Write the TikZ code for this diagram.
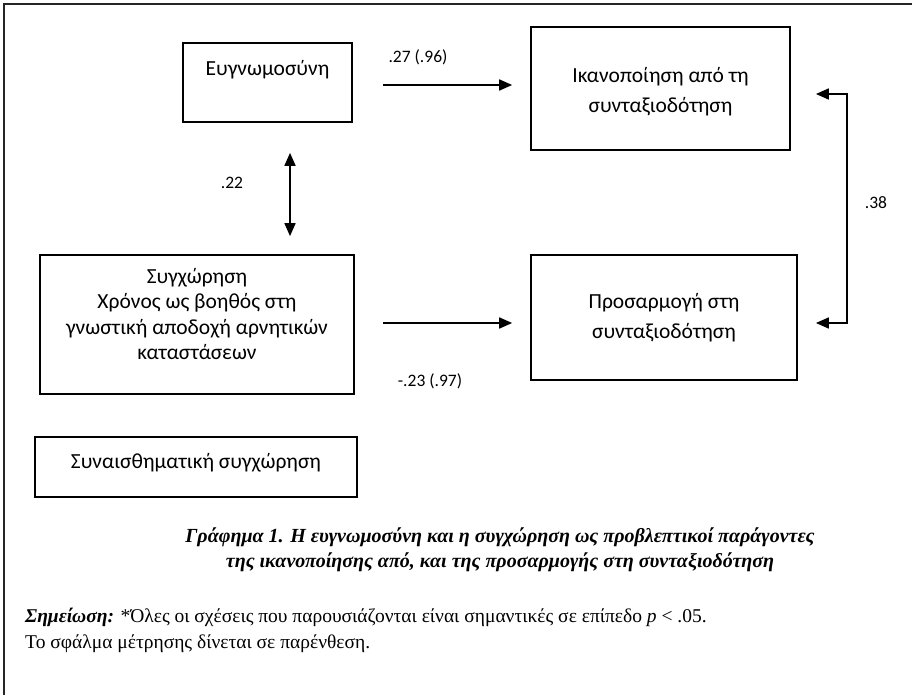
\documentclass[tikz,border=0pt]{standalone}
\usepackage{fontspec}
\setmainfont{Liberation Serif}
\newfontfamily\boxfont{Carlito}
\usetikzlibrary{arrows.meta,calc}
\begin{document}
\begin{tikzpicture}[x=1pt,y=-1pt,
  boxst/.style={draw=black,line width=1.7pt,minimum width=#1,inner sep=0pt},
  btext/.style={font=\boxfont\fontsize{21.5}{25.5}\selectfont,align=center,inner sep=0pt},
  btextw/.style={font=\boxfont\fontsize{21.5}{30}\selectfont,align=center,inner sep=0pt},
  lab/.style={font=\boxfont\fontsize{17.5}{21}\selectfont,inner sep=0pt},
  arr/.style={line width=1.7pt,-{Triangle[length=13pt,width=11pt]}},
  darr/.style={line width=1.7pt,{Triangle[length=13pt,width=11pt]}-{Triangle[length=13pt,width=11pt]}},
  frame/.style={line width=1.3pt,draw=black!85}
]
\useasboundingbox (0,0) rectangle (912,695);
% outer frame (top and left edges visible)
\coordinate (fbl) at (4,695);
\coordinate (ftl) at (4,4);
\coordinate (ftr) at (912,4);
\draw[frame] (fbl) -- (ftl) -- (ftr);

% boxes
\node[boxst=169pt,minimum height=79pt] (gr) at (267.5,82.5) {};
\node[boxst=259pt,minimum height=123pt] (sat) at (660.5,88.5) {};
\node[boxst=314pt,minimum height=139pt] (forg) at (197,324.5) {};
\node[boxst=266pt,minimum height=125pt] (adj) at (664,317.5) {};
\node[boxst=322pt,minimum height=60pt] (emo) at (196,467) {};

% box texts
\node[btext] (grt) at (267.5,70) {Ευγνωμοσύνη};
\node[btextw] (satt) at (660.5,92) {Ικανοποίηση από τη\\συνταξιοδότηση};
\node[btext] (forgt) at (197,314) {Συγχώρηση\\Χρόνος ως βοηθός στη\\γνωστική αποδοχή αρνητικών\\καταστάσεων};
\node[btextw] (adjt) at (664,317.5) {Προσαρμογή στη\\συνταξιοδότηση};
\node[btext] (emot) at (196,463) {Συναισθηματική συγχώρηση};

% connectors
\draw[arr] ($(gr.east)+(30,2.5)$) -- ($(sat.west)+(-18,-3.5)$);
\draw[arr] ($(forg.east)+(28,-1.5)$) -- ($(adj.west)+(-18,5.5)$);
\draw[darr] ($(gr.south)+(22.5,30)$) -- ($(forg.north)+(93,-18)$);
\draw[darr] ($(sat.east)+(25,5.5)$) -- ++(31,0) |- ($(adj.east)+(18,5.5)$);

% labels
\node[lab] (l27) at (418,57) {.27 (.96)};
\node[lab] (l22) at (232,183) {.22};
\node[lab] (l23) at (430,381) {-.23 (.97)};
\node[lab] (l38) at (876,203) {.38};

% caption
\node[font=\fontsize{20}{25}\selectfont\bfseries\itshape,align=center,inner sep=0pt] (cap) at (500,549.5)
  {Γράφημα 1. Η ευγνωμοσύνη και η συγχώρηση ως προβλεπτικοί παράγοντες\\της ικανοποίησης από, και της προσαρμογής στη συνταξιοδότηση};

% note
\node[font=\fontsize{19.5}{26}\selectfont,align=left,anchor=west,inner sep=0pt] (note) at (25,630)
  {\textbf{\textit{Σημείωση:}} *Όλες οι σχέσεις που παρουσιάζονται είναι σημαντικές σε επίπεδο \textit{p} < .05.\\Το σφάλμα μέτρησης δίνεται σε παρένθεση.};
\end{tikzpicture}
\end{document}
